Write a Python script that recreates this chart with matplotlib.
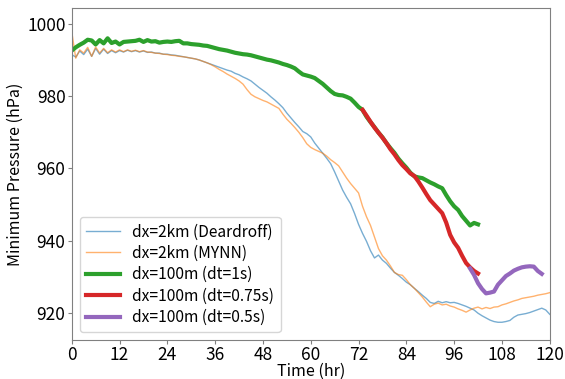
import numpy as np
import matplotlib
matplotlib.use("Agg")
import matplotlib.pyplot as plt

plt.rcParams['font.family'] = ['Noto Sans CJK JP', 'DejaVu Sans']

# hourly minimum pressure (hPa)
t_2km = np.arange(0, 121)
p_deardorff = [
    991.5, 990.8, 992.5, 991.5, 993.0, 991.0, 993.2, 991.6, 993.0, 991.8,
    992.6, 992.0, 992.6, 992.2, 992.7, 992.3, 992.6, 992.2, 992.5, 992.1,
    992.2, 991.9, 991.9, 991.6, 991.6, 991.4, 991.3, 991.1, 990.9, 990.7,
    990.5, 990.3, 990.0, 989.6, 989.2, 988.8, 988.4, 988.0, 987.6, 987.2,
    986.9, 986.3, 985.9, 985.3, 984.8, 984.2, 983.3, 982.4, 981.6, 980.8,
    979.8, 978.9, 977.9, 976.8, 975.3, 974.0, 972.7, 971.5, 970.2, 969.6,
    968.7, 967.0, 965.6, 964.2, 962.8, 961.3, 959.0, 956.5, 954.0, 952.0,
    950.2, 947.5, 944.5, 942.0, 939.8, 937.2, 935.2, 936.0, 934.6, 933.7,
    932.4, 931.2, 930.4, 929.5, 928.5, 927.8, 926.8, 925.9, 924.9, 924.0,
    922.9, 922.6, 923.2, 922.8, 923.1, 922.8, 922.9, 922.6, 922.2, 921.8,
    921.3, 920.8, 919.9, 919.2, 918.6, 918.0, 917.6, 917.4, 917.4, 917.6,
    917.9, 918.8, 919.4, 919.6, 919.8, 920.1, 920.5, 920.9, 921.3, 920.8,
    919.6]
p_mynn = [
    997.8, 990.5, 992.8, 991.9, 993.5, 991.0, 993.6, 991.9, 993.2, 992.0,
    992.8, 992.2, 992.8, 992.3, 992.8, 992.4, 992.7, 992.3, 992.6, 992.2,
    992.1, 991.9, 991.8, 991.6, 991.5, 991.3, 991.2, 991.0, 990.9, 990.7,
    990.5, 990.3, 990.0, 989.6, 989.2, 988.7, 988.1, 987.4, 986.8, 986.1,
    985.5, 984.9, 984.2, 983.3, 981.8, 980.5, 979.8, 979.3, 978.8, 978.4,
    977.8, 977.2, 976.6, 975.0, 973.6, 972.5, 971.3, 970.0, 968.5, 966.8,
    965.8, 965.2, 964.7, 964.2, 963.4, 962.4, 961.6, 960.7, 959.0, 957.3,
    955.8, 954.5, 953.2, 949.5, 946.6, 944.2, 941.0, 937.8, 935.8, 934.6,
    933.0, 931.2, 930.6, 930.4, 929.2, 927.8, 926.8, 925.6, 924.4, 923.0,
    921.7, 922.4, 922.7, 922.2, 922.4, 921.9, 921.6, 921.1, 920.7, 920.2,
    920.8, 921.3, 921.6, 921.1, 921.5, 921.2, 921.6, 921.7, 922.2, 922.5,
    922.9, 923.3, 923.6, 924.0, 924.2, 924.4, 924.6, 924.9, 925.1, 925.3,
    925.6]

t_dt1 = np.arange(0, 103)
p_dt1 = [
    992.6, 993.5, 994.2, 994.8, 995.6, 995.4, 994.3, 995.5, 994.6, 996.0,
    994.7, 995.1, 994.3, 995.0, 995.1, 995.2, 995.3, 995.6, 995.0, 995.5,
    995.1, 995.2, 994.8, 995.0, 995.1, 995.0, 995.2, 995.3, 994.6, 994.6,
    994.4, 994.3, 994.2, 994.0, 993.9, 993.6, 993.3, 993.0, 992.8, 992.6,
    992.3, 992.0, 991.8, 991.6, 991.5, 991.3, 991.0, 990.7, 990.4, 990.1,
    989.9, 989.6, 989.3, 988.9, 988.6, 988.2, 987.7, 986.8, 986.0, 985.7,
    985.4, 985.0, 984.2, 983.4, 982.4, 981.4, 980.6, 980.3, 980.2, 979.8,
    979.3, 978.2, 977.0, 976.2, 974.3, 972.8, 971.4, 969.9, 968.6, 967.0,
    965.6, 964.3, 962.7, 961.4, 960.2, 958.8, 957.8, 957.5, 957.3, 956.7,
    956.1, 955.6, 955.0, 954.5, 952.6, 950.9, 949.5, 948.5, 946.8, 945.5,
    944.2, 944.9, 944.5]

t_dt075 = np.arange(73, 103)
p_dt075 = [
    976.2, 974.6, 972.9, 971.3, 969.9, 968.5, 967.0, 965.3, 963.9, 962.3,
    960.9, 959.8, 958.6, 957.9, 956.4, 954.7, 952.9, 951.2, 950.0, 948.8,
    947.6, 945.0, 941.6, 939.5, 938.0, 935.8, 933.8, 932.6, 931.6, 930.9]

t_dt05 = np.arange(100, 119)
p_dt05 = [
    932.3, 930.5, 928.2, 926.6, 925.4, 925.6, 925.9, 927.8, 929.0, 930.2,
    930.9, 931.7, 932.2, 932.6, 932.8, 932.9, 932.8, 931.6, 930.8]

fig = plt.figure(figsize=(5.65, 3.79), dpi=100)
ax = fig.add_axes([0.127, 0.103, 0.846, 0.876])

ax.plot(t_2km, p_deardorff, color='tab:blue', lw=1, alpha=0.6, label='dx=2km (Deardroff)')
ax.plot(t_2km, p_mynn, color='tab:orange', lw=1, alpha=0.6, label='dx=2km (MYNN)')
ax.plot(t_dt1, p_dt1, color='tab:green', lw=3, label='dx=100m (dt=1s)')
ax.plot(t_dt075, p_dt075, color='tab:red', lw=3, label='dx=100m (dt=0.75s)')
ax.plot(t_dt05, p_dt05, color='tab:purple', lw=3, label='dx=100m (dt=0.5s)')

ax.set_xlim(0, 120)
ax.set_ylim(912.5, 1004.4)
ax.set_xticks(np.arange(0, 121, 12))
ax.set_yticks([920, 940, 960, 980, 1000])
ax.tick_params(labelsize=12.5, color='0.5', length=3, pad=1.5)
for s in ax.spines.values():
    s.set_color('0.5')
ax.set_xlabel('Time (hr)', fontsize=11.5, labelpad=-1)
ax.set_ylabel('Minimum Pressure (hPa)', fontsize=11.5, labelpad=2)
ax.legend(loc='lower left', fontsize=11.2, handlelength=2.2, labelspacing=0.28,
          borderaxespad=0.5)

fig.savefig('out.png', dpi=100)
